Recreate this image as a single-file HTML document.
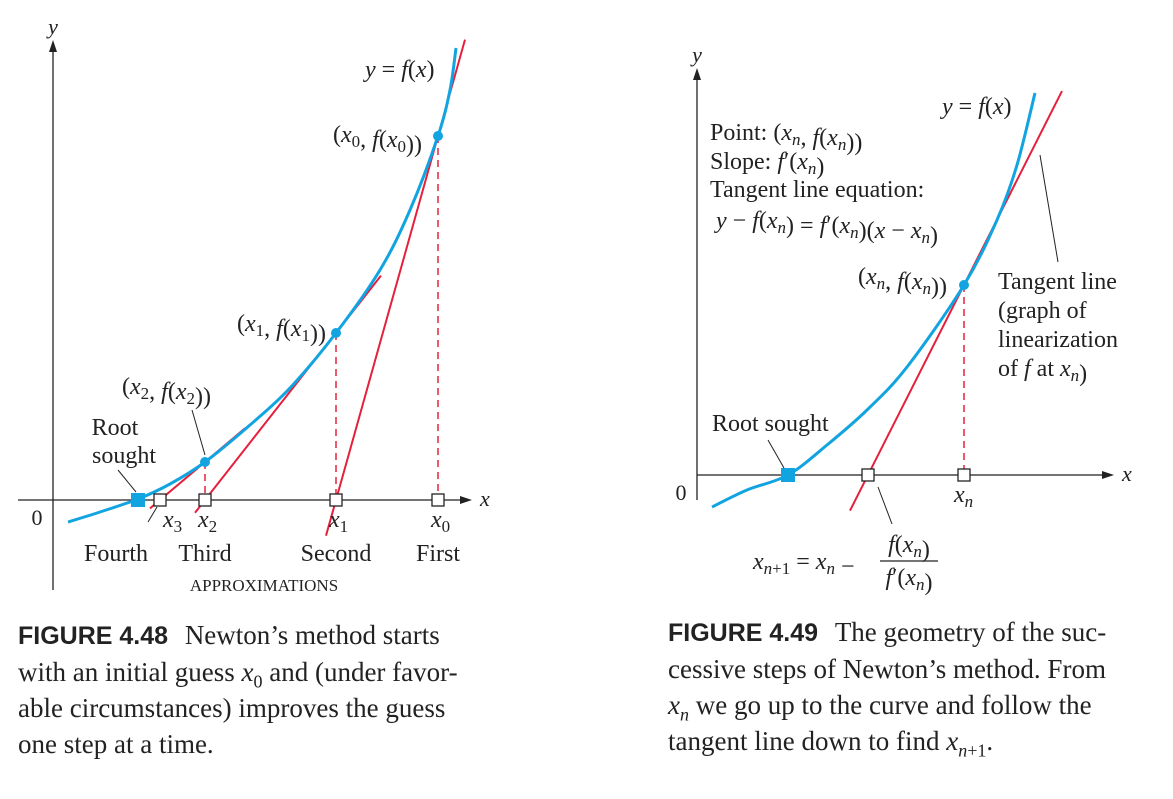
<!DOCTYPE html>
<html><head><meta charset="utf-8">
<style>
body{margin:0;background:#fff;width:1173px;height:799px;overflow:hidden;position:relative;font-family:"Liberation Serif",serif;}
svg{position:absolute;left:0;top:0}
.cap{position:absolute;font-size:27px;line-height:36px;color:#222;white-space:nowrap}
.cap b{font-family:"Liberation Sans",sans-serif;font-size:25px;margin-right:10px}
.cap sub{font-size:18px;line-height:0}
</style></head><body>
<svg width="1173" height="799" font-family="Liberation Serif, serif" font-size="24" fill="#222">
<g id="L"></g>
<g id="R"></g>
</svg>
<div class="cap" style="left:18px;top:617px"><b>FIGURE 4.48</b>&nbsp;Newton’s method starts<br>with an initial guess <i>x</i><sub>0</sub> and (under favor-<br>able circumstances) improves the guess<br>one step at a time.</div>
<div class="cap" style="left:668px;top:614px"><b>FIGURE 4.49</b>&nbsp;The geometry of the suc-<br>cessive steps of Newton’s method. From<br><i>x<sub>n</sub></i> we go up to the curve and follow the<br>tangent line down to find <i>x</i><sub><i>n</i>+1</sub>.</div>
<script>
// Left figure data (units: 100px)
const leftCurveX=[0.15,0.47,0.85,1.17,1.52,1.97,2.37,2.83,3.27,3.57,3.85,3.97,4.03];
const leftCurveY=[-0.22,-0.12,0.01,0.16,0.38,0.75,1.12,1.67,2.30,2.90,3.64,4.10,4.52];
const leftIterX=[3.85,2.83,1.52];        // x0,x1,x2
const leftIterY=[3.64,1.67,0.38];
const leftRootX=[0.85];
const leftNextX=[2.83,1.52,1.07];        // x1,x2,x3
// Right figure data
const rightCurveX=[0.15,0.5,0.91,1.3,1.7,2.1,2.67,3.0,3.2,3.38];
const rightCurveY=[-0.32,-0.15,0.0,0.3,0.65,1.08,1.90,2.55,3.1,3.82];
const rightXn=[2.67], rightFxn=[1.90], rightNext=[1.71], rightRoot=[0.91];

const NS="http://www.w3.org/2000/svg";
function mk(parent,tag,attrs,text){const e=document.createElementNS(NS,tag);for(const k in attrs)e.setAttribute(k,attrs[k]);if(text!==undefined)e.innerHTML=text;parent.appendChild(e);return e;}
const BLUE="#12a4e0",RED="#e5203c";
function smooth(P){let d=`M${P[0][0]},${P[0][1]}`;
  for(let i=0;i<P.length-1;i++){const p0=P[Math.max(i-1,0)],p1=P[i],p2=P[i+1],p3=P[Math.min(i+2,P.length-1)];
    d+=` C${p1[0]+(p2[0]-p0[0])/6},${p1[1]+(p2[1]-p0[1])/6} ${p2[0]-(p3[0]-p1[0])/6},${p2[1]-(p3[1]-p1[1])/6} ${p2[0]},${p2[1]}`;}
  return d;}

function draw(g,ox,oy,cx,cy,iterX,iterY,nextX,rootX,opts){
  const sx=v=>ox+v*100, sy=v=>oy-v*100;
  let a=mk(g,'line',{x1:opts.xa0,y1:oy,x2:opts.xa1,y2:oy,stroke:'#222','stroke-width':1.3});
  
  mk(g,'path',{d:`M${opts.xa1+8},${oy} l-12,-4 l0,8z`,fill:'#222'});
  a=mk(g,'line',{x1:ox,y1:opts.ya1,x2:ox,y2:opts.ya0,stroke:'#222','stroke-width':1.3});
  
  mk(g,'path',{d:`M${ox},${opts.ya0-8} l-4,12 l8,0z`,fill:'#222'});
  mk(g,'text',{x:ox,y:opts.ya0-14,'text-anchor':'middle','font-style':'italic','font-size':22},'y');
  mk(g,'text',{x:opts.xa1+16,y:oy+6,'font-style':'italic','font-size':22},'x');
  mk(g,'text',{x:ox-16,y:oy+25,'text-anchor':'middle','font-size':22},'0');
  for(let i=0;i<iterX.length;i++){
    const x0=iterX[i],y0=iterY[i],x1=nextX[i],m=y0/(x0-x1);
    const ext=opts.ext[i];
    const t=mk(g,'line',{x1:sx(x1-opts.below[i]),y1:sy(-m*opts.below[i]),x2:sx(x0+ext),y2:sy(y0+m*ext),stroke:RED,'stroke-width':2});
    
    mk(g,'line',{x1:sx(x0),y1:sy(y0),x2:sx(x0),y2:oy,stroke:RED,'stroke-width':1.5,'stroke-dasharray':'7,5'});
  }
  const c=mk(g,'path',{d:smooth(cx.map((v,i)=>[sx(v),sy(cy[i])])),fill:'none',stroke:BLUE,'stroke-width':3});
  
  const sq=[...new Set([...iterX,...nextX])];
  sq.forEach(v=>{const r=mk(g,'rect',{x:sx(v)-6,y:oy-6,width:12,height:12,fill:'#fff',stroke:'#222','stroke-width':1.3});
    });
  rootX.forEach(v=>{const r=mk(g,'rect',{x:sx(v)-7,y:oy-7,width:14,height:14,fill:BLUE});
    });
  iterX.forEach((v,i)=>{const p=mk(g,'circle',{cx:sx(v),cy:sy(iterY[i]),r:5,fill:BLUE});
    });
  return {sx,sy};
}
const L=document.getElementById('L');
const l=draw(L,53,500,leftCurveX,leftCurveY,leftIterX,leftIterY,leftNextX,leftRootX,
  {xa0:18,xa1:464,ya0:48,ya1:590,ext:[0.27,0.45,0.4],below:[0.1,0.1,0.1]});
const sub=(b,s)=>`<tspan font-style="italic">${b}</tspan><tspan font-size="17" dy="5" font-style="${s==='n'?'italic':'normal'}">${s}</tspan><tspan dy="-5"></tspan>`;
[[3.85,'0'],[2.83,'1'],[1.52,'2'],[1.07,'3']].forEach(([v,s])=>{
  mk(L,'text',{x:l.sx(v)-(s==='3'?-3:7),y:527},sub('x',s));
});
mk(L,'line',{x1:148,y1:522,x2:157,y2:507,stroke:'#222'});
[['Fourth',116],['Third',205],['Second',336],['First',438]].forEach(([t,x])=>mk(L,'text',{x,y:561,'text-anchor':'middle'},t));
mk(L,'text',{x:264,y:591,'text-anchor':'middle','font-size':17},'APPROXIMATIONS');
mk(L,'text',{x:365,y:77},'<tspan font-style="italic">y</tspan> = <tspan font-style="italic">f</tspan>(<tspan font-style="italic">x</tspan>)');
const pt=s=>`(${sub('x',s)}, <tspan font-style="italic">f</tspan>(${sub('x',s)}))`;
mk(L,'text',{x:333,y:142},pt('0'));
mk(L,'text',{x:237,y:331},pt('1'));
mk(L,'text',{x:122,y:394},pt('2'));
mk(L,'line',{x1:192,y1:410,x2:205,y2:455,stroke:'#222'});
mk(L,'text',{x:115,y:435,'text-anchor':'middle'},'Root');
mk(L,'text',{x:124,y:463,'text-anchor':'middle'},'sought');
mk(L,'line',{x1:118,y1:470,x2:136,y2:492,stroke:'#222'});

const R=document.getElementById('R');
const r=draw(R,697,475,rightCurveX,rightCurveY,rightXn,rightFxn,rightNext,rightRoot,
  {xa0:697,xa1:1106,ya0:76,ya1:500,ext:[0.98],below:[0.18]});
mk(R,'text',{x:954,y:502},sub('x','n'));
mk(R,'text',{x:710,y:140},'Point: ('+sub('x','n')+', <tspan font-style="italic">f</tspan>('+sub('x','n')+'))');
mk(R,'text',{x:710,y:169},'Slope: <tspan font-style="italic">f</tspan>′('+sub('x','n')+')');
mk(R,'text',{x:710,y:197},'Tangent line equation:');
mk(R,'text',{x:716,y:228},'<tspan font-style="italic">y</tspan> − <tspan font-style="italic">f</tspan>('+sub('x','n')+') = <tspan font-style="italic">f</tspan>′('+sub('x','n')+')(<tspan font-style="italic">x</tspan> − '+sub('x','n')+')');
mk(R,'text',{x:942,y:114},'<tspan font-style="italic">y</tspan> = <tspan font-style="italic">f</tspan>(<tspan font-style="italic">x</tspan>)');
mk(R,'text',{x:858,y:284},pt('n'));
['Tangent line','(graph of','linearization'].forEach((t,i)=>mk(R,'text',{x:998,y:289+i*29},t));
mk(R,'text',{x:998,y:376},'of <tspan font-style="italic">f</tspan> at '+sub('x','n')+')');
mk(R,'line',{x1:1058,y1:262,x2:1040,y2:155,stroke:'#222'});
mk(R,'text',{x:712,y:431},'Root sought');
mk(R,'line',{x1:768,y1:440,x2:784,y2:468,stroke:'#222'});
mk(R,'line',{x1:878,y1:487,x2:892,y2:524,stroke:'#222'});
mk(R,'text',{x:753,y:569},'<tspan font-style="italic">x</tspan><tspan font-size="17" dy="5"><tspan font-style="italic">n</tspan>+1</tspan><tspan dy="-5"> = </tspan>'+sub('x','n')+'<tspan> − </tspan>');
mk(R,'text',{x:909,y:552,'text-anchor':'middle'},'<tspan font-style="italic">f</tspan>('+sub('x','n')+')');
mk(R,'line',{x1:880,y1:561,x2:938,y2:561,stroke:'#222','stroke-width':1.2});
mk(R,'text',{x:909,y:585,'text-anchor':'middle'},'<tspan font-style="italic">f</tspan>′('+sub('x','n')+')');
</script>
</body></html>
